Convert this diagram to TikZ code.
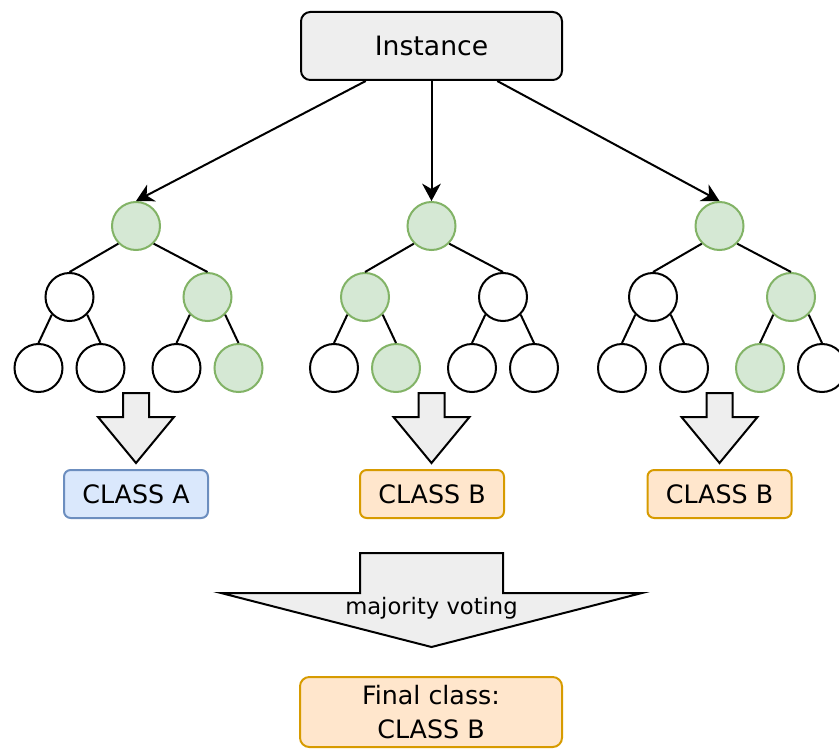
\documentclass[tikz,border=0pt]{standalone}
\usepackage{fontspec}
\setmainfont{DejaVu Sans}
\usetikzlibrary{arrows.meta,calc}

\definecolor{hitfill}{HTML}{D5E8D4}
\definecolor{hitline}{HTML}{82B366}
\definecolor{bluefill}{HTML}{DAE8FC}
\definecolor{blueline}{HTML}{6C8EBF}
\definecolor{orangefill}{HTML}{FFE6CC}
\definecolor{orangeline}{HTML}{D79B00}
\definecolor{greyfill}{HTML}{EEEEEE}

% one down block arrow: centre x, top y, shoulder y, tip y, half stem, half head
\newcommand{\blockdown}[6]{%
  \filldraw[blockarrow] (#1-#5,#2) -- (#1+#5,#2) -- (#1+#5,#3) -- (#1+#6,#3)
    -- (#1,#4) -- (#1-#6,#3) -- (#1-#5,#3) -- cycle;}

\begin{document}
\begin{tikzpicture}[x=0.75pt,y=-0.75pt,
    plainnode/.style={circle,draw=black,fill=white,line width=1.5pt,minimum size=36pt,inner sep=0pt},
    pathnode/.style={plainnode,draw=hitline,fill=hitfill},
    branch/.style={line width=1.5pt},
    arr/.style={line width=1.5pt,-{Stealth[length=13pt,width=14pt,inset=4pt]}},
    blockarrow/.style={fill=greyfill,draw=black,line width=1.5pt},
    classbox/.style={rounded corners=5pt,line width=1.5pt,minimum width=108pt,minimum height=36pt,font=\fontsize{19}{23}\selectfont},
    classa/.style={classbox,draw=blueline,fill=bluefill},
    classb/.style={classbox,draw=orangeline,fill=orangefill}]
  \useasboundingbox (0,0) rectangle (839,749);

  % input
  \node[draw,fill=greyfill,rounded corners=7pt,line width=1.5pt,minimum width=195.75pt,minimum height=51pt,
        font=\fontsize{20}{24}\selectfont] (inst) at (431.5,46) {Instance};

  % the three trees
  \foreach \t/\x/\sa/\sb/\la/\lb/\lc/\ld in {%
      1/136/plainnode/pathnode/plainnode/plainnode/plainnode/pathnode,
      2/431.5/pathnode/plainnode/plainnode/pathnode/plainnode/plainnode,
      3/719.5/plainnode/pathnode/plainnode/plainnode/pathnode/plainnode}{
    \node[pathnode] (r\t) at (\x,226) {};
    \node[\sa] (a\t) at (\x-66.5,297) {};
    \node[\sb] (b\t) at (\x+71.5,297) {};
    \node[\la] (aa\t) at (\x-97.5,368) {};
    \node[\lb] (ab\t) at (\x-35.5,368) {};
    \node[\lc] (ba\t) at (\x+40.5,368) {};
    \node[\ld] (bb\t) at (\x+102.5,368) {};
    \draw[branch] (r\t.south west) -- (a\t.north);
    \draw[branch] (r\t.south east) -- (b\t.north);
    \draw[branch] (a\t.south west) -- (aa\t.north);
    \draw[branch] (a\t.south east) -- (ab\t.north);
    \draw[branch] (b\t.south west) -- (ba\t.north);
    \draw[branch] (b\t.south east) -- (bb\t.north);
  }

  \draw[arr] ($(inst.south west)!0.25!(inst.south east)$) -- (r1.north);
  \draw[arr] (inst.south) -- (r2.north);
  \draw[arr] ($(inst.south west)!0.75!(inst.south east)$) -- (r3.north);

  % votes of the trees
  \blockdown{136}{393}{417}{463}{13}{38}
  \blockdown{431.5}{393}{417}{463}{13}{38}
  \blockdown{719.5}{393}{417}{463}{13}{38}

  \node[classa] (ca) at (136,494) {CLASS A};
  \node[classb] (cb) at (432,494) {CLASS B};
  \node[classb] (cc) at (719.5,494) {CLASS B};

  % majority voting
  \blockdown{431.5}{553}{593}{647}{71.5}{210.5}
  \node[font=\fontsize{17}{20}\selectfont] (vote) at (431.5,608) {majority voting};

  \node[classb,minimum width=196.5pt,minimum height=52.5pt,rounded corners=7pt,align=center,
        font=\fontsize{19}{25}\selectfont] (final) at (431,712) {Final class:\\CLASS B};
\end{tikzpicture}
\end{document}
